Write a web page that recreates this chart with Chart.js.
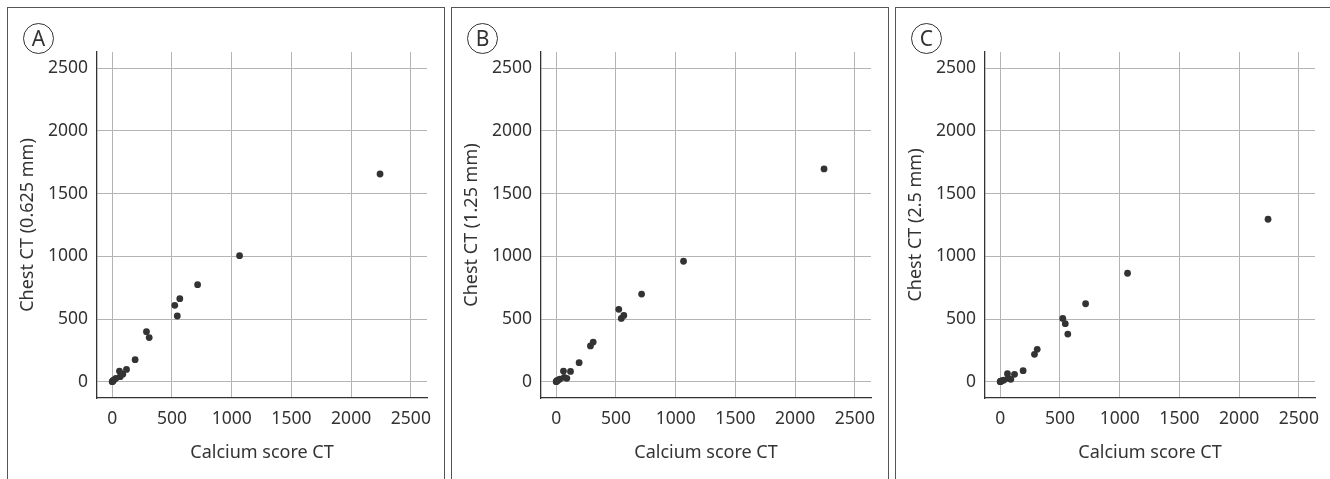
<!DOCTYPE html>
<html>
<head>
<meta charset="utf-8">
<script src="https://cdn.jsdelivr.net/npm/chart.js@4"></script>
<style>
  html, body { margin: 0; padding: 0; background: #fff; }
  body { width: 1330px; height: 479px; position: relative; overflow: hidden; font-family: "Noto Sans", sans-serif; }
  .panel { position: absolute; top: 7px; width: 436px; height: 480px; border: 1px solid #555; border-bottom: none; }
  .panel canvas { position: absolute; left: 0; top: 0; }
  .tag { position: absolute; left: 15px; top: 15px; width: 29px; height: 29px; border: 1px solid #333; border-radius: 50%;
         font-size: 21px; line-height: 29px; text-align: center; color: #333; }
</style>
</head>
<body>
<div class="panel" style="left:7px"><canvas id="chartA" width="436" height="472"></canvas><div class="tag">A</div></div>
<div class="panel" style="left:451px"><canvas id="chartB" width="436" height="472"></canvas><div class="tag">B</div></div>
<div class="panel" style="left:895px"><canvas id="chartC" width="436" height="472"></canvas><div class="tag">C</div></div>
<script>
// calcium score CT values (shared x for all three panels)
const calciumScore = [0, 3, 8, 15, 31, 61, 67, 89, 120, 192, 287, 310, 524, 545, 566, 715, 1066, 2242];
// chest CT values for each slice thickness
const chest0625 = [0, 2, 8, 15, 27, 85, 40, 60, 98, 176, 399, 352, 609, 524, 662, 774, 1005, 1657];
const chest125 = [0, 3, 8, 12, 21, 85, 35, 27, 82, 152, 285, 316, 577, 505, 529, 699, 961, 1697];
const chest25 = [0, 2, 5, 8, 13, 64, 27, 19, 59, 88, 218, 258, 505, 463, 380, 622, 865, 1296];

const tickValues = [0, 500, 1000, 1500, 2000, 2500];
const xTitle = 'Calcium score CT';

const panels = [
    { id: 'chartA', title: 'Chest CT (0.625 mm)', values: chest0625 },
    { id: 'chartB', title: 'Chest CT (1.25 mm)', values: chest125 },
    { id: 'chartC', title: 'Chest CT (2.5 mm)', values: chest25 }
];

const textColor = '#333';
const gridColor = '#b4b4b4';
const tickFont = { family: 'Noto Sans', size: 17.5 };
const titleFont = { family: 'Noto Sans', size: 18 };

function setTicks(axis) {
    axis.ticks = tickValues.map(v => ({ value: v }));
}

panels.forEach(p => {
    const points = calciumScore.map((x, i) => ({ x: x, y: p.values[i] }));
    new Chart(document.getElementById(p.id), {
        type: 'scatter',
        data: {
            datasets: [{
                data: points,
                backgroundColor: '#333',
                borderColor: '#333',
                pointRadius: 3.4,
                pointBorderWidth: 0
            }]
        },
        options: {
            responsive: false,
            animation: false,
            layout: { padding: { left: 0, top: 44, right: 17, bottom: 0 } },
            plugins: { legend: { display: false }, tooltip: { enabled: false } },
            scales: {
                x: {
                    type: 'linear',
                    min: -127,
                    max: 2635,
                    afterBuildTicks: setTicks,
                    afterFit: axis => { axis.height = 82; },
                    grid: { color: gridColor, drawTicks: false },
                    border: { color: '#333', width: 1.3 },
                    ticks: { color: textColor, font: tickFont, padding: 11, maxRotation: 0, callback: v => String(v) },
                    title: { display: true, text: xTitle, color: textColor, font: titleFont, padding: { bottom: 16 } }
                },
                y: {
                    type: 'linear',
                    min: -130,
                    max: 2630,
                    afterBuildTicks: setTicks,
                    afterFit: axis => { axis.width = 89; },
                    grid: { color: gridColor, drawTicks: false },
                    border: { color: '#333', width: 1.3 },
                    ticks: { color: textColor, font: tickFont, padding: 9, callback: v => String(v) },
                    title: { display: true, text: p.title, color: textColor, font: titleFont, padding: { top: 9 } }
                }
            }
        }
    });
});
</script>
</body>
</html>
